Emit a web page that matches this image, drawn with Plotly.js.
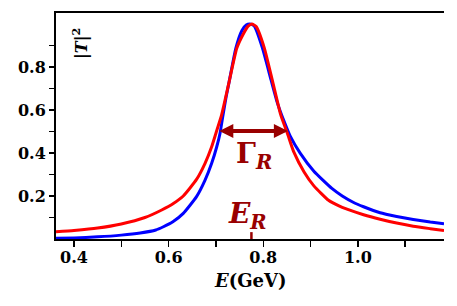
<!DOCTYPE html>
<html><head><meta charset="utf-8">
<script src="https://cdn.plot.ly/plotly-3.0.1.min.js"></script>
<style>html,body{margin:0;padding:0;background:#fff;}#c{width:457px;height:306px;}</style>
</head><body><div id="c"></div>
<script>
// Blue curve
const eBlue = [0.362,0.40,0.45,0.50,0.54,0.573,0.589,0.609,0.631,0.659,0.677,0.691,0.7017,0.7087,0.715,0.7215,0.728,0.742,0.755,0.764,0.772,0.781,0.798,0.8165,0.830,0.843,0.857,0.878,0.907,0.945,0.967,0.990,1.012,1.047,1.082,1.117,1.153,1.182];
const tBlue = [0.003,0.005,0.010,0.018,0.028,0.042,0.057,0.080,0.119,0.197,0.274,0.352,0.429,0.492,0.577,0.660,0.732,0.887,0.970,0.995,1.000,0.990,0.890,0.740,0.632,0.553,0.478,0.399,0.315,0.235,0.200,0.171,0.150,0.122,0.105,0.091,0.079,0.071];
// Red curve
const eRed = [0.362,0.40,0.45,0.50,0.55,0.5854,0.610,0.631,0.659,0.677,0.691,0.700,0.712,0.728,0.744,0.757,0.768,0.776,0.785,0.802,0.819,0.837,0.852,0.8645,0.886,0.907,0.938,0.960,0.977,1.012,1.047,1.082,1.117,1.153,1.182];
const tRed = [0.034,0.040,0.051,0.070,0.100,0.135,0.165,0.200,0.277,0.352,0.429,0.492,0.577,0.732,0.887,0.950,0.990,1.000,0.988,0.890,0.740,0.577,0.485,0.405,0.313,0.247,0.180,0.154,0.139,0.113,0.092,0.074,0.059,0.048,0.040];
// Resonance parameters (annotations)
const ER = 0.775;
const gammaLo = 0.704, gammaHi = 0.852, gammaY = 0.502;
// Ticks
const xTickVals = [0.4,0.5,0.6,0.7,0.8,0.9,1.0,1.1];
const xTickText = ['0.4','','0.6','','0.8','','1.0',''];
const yTickVals = [0.1,0.2,0.3,0.4,0.5,0.6,0.7,0.8,0.9];
const yTickText = ['','0.2','','0.4','','0.6','','0.8',''];

const dark = '#990000';
const serif = 'DejaVu Serif, Liberation Serif, serif';

const traces = [
  {x: eBlue, y: tBlue, mode: 'lines', line: {color: '#0000ff', width: 3, shape: 'spline', smoothing: 0.5}, hoverinfo: 'skip'},
  {x: eRed, y: tRed, mode: 'lines', line: {color: '#ff0000', width: 3, shape: 'spline', smoothing: 0.5}, hoverinfo: 'skip'}
];

const layout = {
  width: 457, height: 306,
  margin: {l: 56, r: 13, t: 13, b: 67},
  paper_bgcolor: '#fff', plot_bgcolor: '#fff',
  showlegend: false,
  xaxis: {
    range: [0.362, 1.182], showgrid: false, zeroline: false,
    showline: true, linecolor: '#000', linewidth: 2, mirror: true,
    ticks: 'outside', ticklen: 6, tickwidth: 1.5, tickcolor: '#000',
    tickvals: xTickVals, ticktext: xTickText, ticklabelstandoff: -3,
    tickfont: {family: serif, size: 16, color: '#000', weight: 'bold'}
  },
  yaxis: {
    range: [0, 1.051], showgrid: false, zeroline: false,
    showline: true, linecolor: '#000', linewidth: 2,
    ticks: 'outside', ticklen: 5, tickwidth: 1.5, tickcolor: '#000',
    tickvals: yTickVals, ticktext: yTickText,
    tickfont: {family: serif, size: 16, color: '#000', weight: 'bold'}
  },
  shapes: [
    {type: 'line', xref: 'x', yref: 'y', x0: ER, x1: ER, y0: 0, y1: 0.032, line: {color: dark, width: 2.5}}
  ],
  annotations: [
    {x: gammaHi, y: gammaY, ax: gammaLo, ay: gammaY, xref: 'x', yref: 'y', axref: 'x', ayref: 'y',
     text: '', showarrow: true, arrowhead: 2, startarrowhead: 2, arrowside: 'end+start',
     arrowsize: 0.7, startarrowsize: 0.7, arrowwidth: 4, arrowcolor: dark},
    {x: 0.7806, y: 0.39, xref: 'x', yref: 'y', showarrow: false,
     text: '<b>Γ<sub><i>R</i></sub></b>', font: {family: serif, size: 28, color: dark}},
    {x: 0.766, y: 0.11, xref: 'x', yref: 'y', showarrow: false,
     text: '<b><i>E</i><sub><i>R</i></sub></b>', font: {family: serif, size: 28, color: dark}},
    {x: 0.062, y: 0.863, xref: 'paper', yref: 'paper', xanchor: 'center', yanchor: 'middle', showarrow: false, textangle: -90,
     text: '<b>|<i>T</i>|<sup>2</sup></b>', font: {family: serif, size: 16, color: '#000'}},
    {x: 0.5, y: -0.185, xref: 'paper', yref: 'paper', xanchor: 'center', yanchor: 'middle', showarrow: false,
     text: '<b><i>E</i>(GeV)</b>', font: {family: serif, size: 18, color: '#000'}}
  ]
};

Plotly.newPlot('c', traces, layout, {staticPlot: true, displayModeBar: false});
</script></body></html>
